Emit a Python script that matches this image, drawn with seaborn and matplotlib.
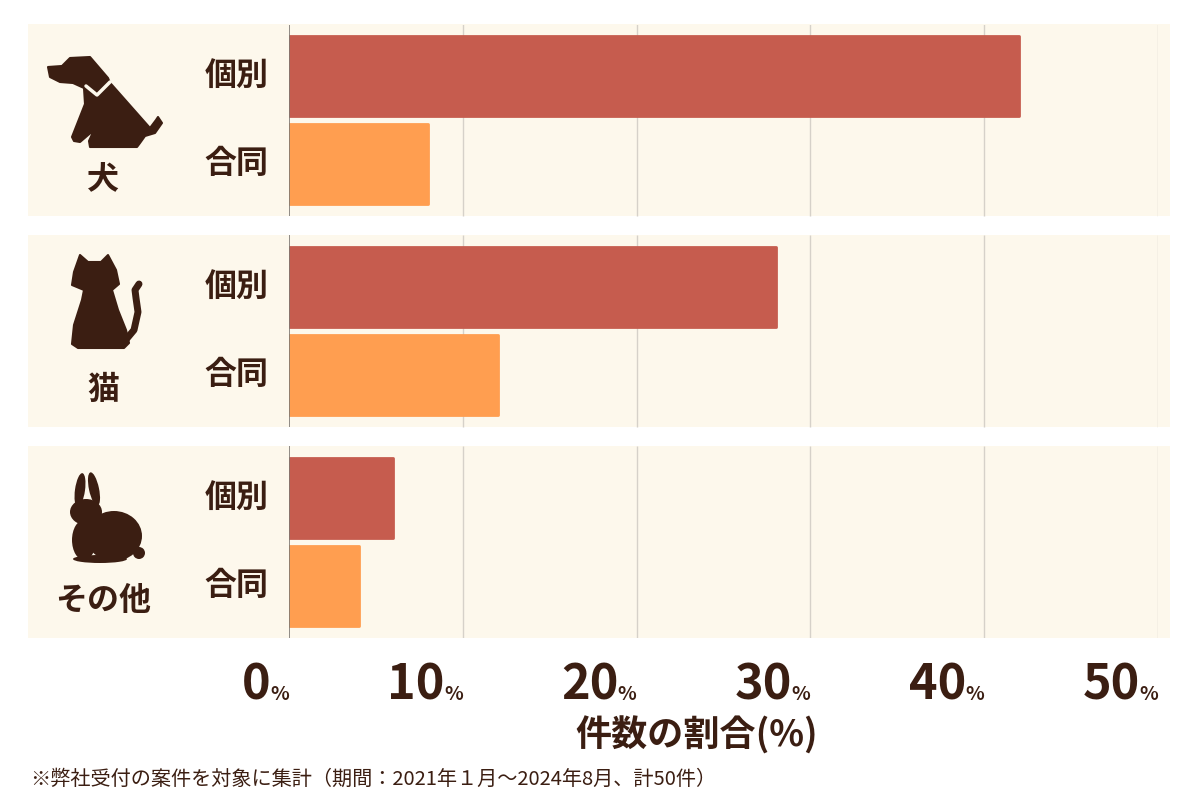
import numpy as np
import pandas as pd
import matplotlib.pyplot as plt
import seaborn as sns
from matplotlib.patches import Rectangle, Polygon, Ellipse, Circle

# --- データ（全50件に対する割合 %） ---
animals = ['犬', '猫', 'その他']
kinds = ['個別', '合同']
share_kobetsu = [42, 28, 6]
share_godo = [8, 12, 4]
ticks = [0, 10, 20, 30, 40, 50]
note = '※弊社受付の案件を対象に集計（期間：2021年１月〜2024年8月、計50件）'

df = pd.DataFrame({
    'animal': animals * 2,
    'kind': ['個別'] * 3 + ['合同'] * 3,
    'share': share_kobetsu + share_godo,
})

sns.set_theme(style='white')
plt.rcParams['font.family'] = ['Noto Sans CJK JP', 'DejaVu Sans']

ink = '#3B1E12'
panel_bg = '#FDF8EC'
colors = ['#C65C4E', '#FF9E50']

fig = plt.figure(figsize=(12, 8), dpi=100)
fig.patch.set_facecolor('white')
ax = fig.add_axes([289 / 1200, 1 - 638 / 800, 869 / 1200, 613 / 800])
ax.set_facecolor('none')

sns.barplot(data=df, y='animal', x='share', hue='kind', order=animals,
            hue_order=kinds, palette=colors, saturation=1, width=0.84,
            gap=0.1, orient='h', errorbar=None, legend=False, ax=ax, zorder=3)

# 角を少し丸める
for p in ax.patches:
    p.set_edgecolor(p.get_facecolor())
    p.set_linewidth(2)
    p.set_joinstyle('round')

ax.set_xlim(0, 50)
ax.set_ylim(2.455, -0.45)
ax.set_xticks([])
ax.set_yticks([])
ax.set_xlabel('')
ax.set_ylabel('')
sns.despine(ax=ax, left=True, bottom=True)

# --- 背景パネルとグリッド ---
ytr = ax.get_yaxis_transform()
for i, name in enumerate(animals):
    ax.add_patch(Rectangle((-0.3003, i - 0.455), 1.3141, 0.91, transform=ytr,
                           facecolor=panel_bg, edgecolor='none',
                           clip_on=False, zorder=0))
    ax.vlines(ticks[1:], i - 0.455, i + 0.455, color='#D6D1C9', lw=1, zorder=1)
    ax.vlines(0, i - 0.455, i + 0.455, color='#7D7873', lw=1.2, zorder=4)
    ax.text(-0.06, i - 0.21, kinds[0], transform=ytr, ha='center', va='center',
            fontsize=23, fontweight='bold', color=ink)
    ax.text(-0.06, i + 0.21, kinds[1], transform=ytr, ha='center', va='center',
            fontsize=23, fontweight='bold', color=ink)
    ax.text(-0.214, i + 0.28, name, transform=ytr, ha='center', va='center',
            fontsize=23, fontweight='bold', color=ink)

# --- X軸ラベル（数字 + 小さい%） ---
for t in ticks:
    ax.annotate(str(t), xy=(t, 0), xycoords=('data', 'axes fraction'),
                xytext=(-18, -62), textcoords='offset pixels', ha='right',
                va='baseline', fontsize=35, fontweight='bold', color=ink,
                annotation_clip=False)
    ax.annotate('%', xy=(t, 0), xycoords=('data', 'axes fraction'),
                xytext=(0, -62), textcoords='offset pixels', ha='right',
                va='baseline', fontsize=14, fontweight='bold', color=ink,
                annotation_clip=False)

fig.text(697 / 1200, 1 - 736 / 800, '件数の割合(%)', ha='center', va='center',
         fontsize=26, fontweight='bold', color=ink)
fig.text(30 / 1200, 1 - 779 / 800, note, ha='left', va='center',
         fontsize=14.5, color=ink)

# --- 動物アイコン（簡易シルエット） ---
ov = fig.add_axes([0, 0, 1, 1], zorder=5)
ov.set_xlim(0, 1200)
ov.set_ylim(800, 0)
ov.axis('off')
ov.patch.set_alpha(0)

dog = [(48, 67), (62, 66), (70, 58), (90, 57), (108, 78), (110, 83),
       (112, 85), (150, 128), (156, 120), (158, 117), (162, 123), (155, 133),
       (145, 136), (140, 143), (137, 147), (90, 147), (89, 141), (94, 130),
       (80, 142), (74, 141), (72, 137), (85, 104), (84, 88), (73, 83),
       (60, 82), (50, 77)]
ov.add_patch(Polygon(dog, closed=True, facecolor=ink, edgecolor=ink,
                     lw=1.5, joinstyle='round'))
ov.plot([86, 97, 110], [86, 95, 82], color=panel_bg, lw=2.5)

cat = [(72, 285), (74, 272), (80, 255), (88, 262), (101, 262), (108, 255),
       (116, 270), (119, 284), (112, 290), (118, 310), (126, 330), (129, 343),
       (124, 348), (78, 348), (72, 344), (74, 325), (82, 300), (84, 290)]
ov.add_patch(Polygon(cat, closed=True, facecolor=ink, edgecolor=ink,
                     lw=1.5, joinstyle='round'))
ov.plot([124, 134, 138, 136, 135, 139], [342, 330, 312, 298, 290, 284],
        color=ink, lw=5, solid_capstyle='round')

for shape in [Ellipse((80, 490), 10, 34, angle=8), Ellipse((94, 489), 10, 34, angle=-12),
              Ellipse((86, 512), 32, 26), Ellipse((114, 536), 56, 50),
              Ellipse((84, 540), 24, 40), Circle((139, 553), 6),
              Ellipse((100, 559), 54, 8)]:
    shape.set_facecolor(ink)
    shape.set_edgecolor('none')
    ov.add_patch(shape)

fig.savefig('out.png', dpi=100)
